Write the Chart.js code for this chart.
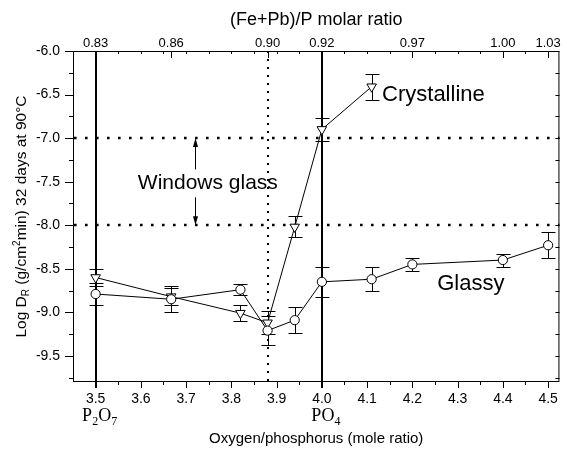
<!DOCTYPE html>
<html>
<head>
<meta charset="utf-8">
<title>Dissolution rate vs O/P ratio</title>
<script src="https://cdn.jsdelivr.net/npm/chart.js@4.4.0/dist/chart.umd.min.js"></script>
<style>
  html, body { margin: 0; padding: 0; background: #fff; }
  #wrap { width: 567px; height: 455px; }
</style>
</head>
<body>
<div id="wrap"><canvas id="dissolutionChart" width="567" height="455"></canvas></div>
<script>
// glassy samples: O/P ratio, log DR and error
const glassyRatio = [3.5, 3.667, 3.82, 3.88, 3.94, 4.0, 4.11, 4.2, 4.4, 4.5];
const glassyLogDR = [-8.79, -8.85, -8.74, -9.21, -9.09, -8.65, -8.62, -8.45, -8.40, -8.23];
const glassyErr   = [0.13, 0.15, 0.06, 0.17, 0.15, 0.17, 0.14, 0.07, 0.075, 0.15];

// crystallized samples
const crystRatio = [3.5, 3.667, 3.82, 3.88, 3.94, 4.0, 4.11];
const crystLogDR = [-8.60, -8.82, -9.01, -9.12, -8.02, -6.90, -6.41];
const crystErr   = [0.10, 0.10, 0.09, 0.13, 0.12, 0.13, 0.15];

// top axis: (Fe+Pb)/P ratio placed at the matching O/P ratio
const topTickRatio  = [3.5, 3.667, 3.88, 4.0, 4.2, 4.4, 4.5];
const topTickLabels = ['0.83', '0.86', '0.90', '0.92', '0.97', '1.00', '1.03'];

// window glass range and composition markers
const windowGlassLimits = [-8.0, -7.0];
const solidRatioLines = [3.5, 4.0];
const dottedRatioLine = 3.88;

const sans = '"Liberation Sans", Arial, Helvetica, sans-serif';
const serif = '"Liberation Serif", "Times New Roman", serif';

// text with sub/superscript pieces, centred on cx
function drawRich(ctx, parts, cx, baseY, size, family) {
  const small = Math.round(size * 0.64);
  let w = 0;
  parts.forEach(p => {
    ctx.font = (p.s ? small : size) + 'px ' + family;
    w += ctx.measureText(p.t).width;
  });
  let xx = cx - w / 2;
  ctx.textAlign = 'left';
  ctx.textBaseline = 'alphabetic';
  parts.forEach(p => {
    ctx.font = (p.s ? small : size) + 'px ' + family;
    const dy = p.s === 'sub' ? size * 0.22 : p.s === 'sup' ? -size * 0.4 : 0;
    ctx.fillText(p.t, xx, baseY + dy);
    xx += ctx.measureText(p.t).width;
  });
}

function arrow(ctx, xx, fromY, toY) {
  const dir = toY < fromY ? -1 : 1;
  ctx.beginPath();
  ctx.moveTo(xx, fromY);
  ctx.lineTo(xx, toY - dir * 8);
  ctx.stroke();
  ctx.beginPath();
  ctx.moveTo(xx, toY);
  ctx.lineTo(xx - 2.5, toY - dir * 9);
  ctx.lineTo(xx + 2.5, toY - dir * 9);
  ctx.closePath();
  ctx.fill();
}

const decorPlugin = {
  id: 'decor',
  beforeDatasetsDraw(chart) {
    const { ctx, chartArea: a, scales: { x, y } } = chart;
    ctx.save();
    ctx.strokeStyle = '#000';

    // window glass limits
    ctx.lineWidth = 2.6;
    ctx.setLineDash([2.6, 8.4]);
    windowGlassLimits.forEach(v => {
      const yy = Math.round(y.getPixelForValue(v));
      ctx.beginPath();
      ctx.moveTo(a.left + 1, yy);
      ctx.lineTo(a.right, yy);
      ctx.stroke();
    });

    // dotted line at 0.90
    ctx.lineWidth = 2;
    ctx.setLineDash([2, 6]);
    const xd = Math.round(x.getPixelForValue(dottedRatioLine));
    ctx.beginPath();
    ctx.moveTo(xd, a.top);
    ctx.lineTo(xd, a.bottom);
    ctx.stroke();
    ctx.setLineDash([]);

    // P2O7 and PO4 compositions
    ctx.lineWidth = 2;
    solidRatioLines.forEach(v => {
      const xx = Math.round(x.getPixelForValue(v));
      ctx.beginPath();
      ctx.moveTo(xx, a.top);
      ctx.lineTo(xx, a.bottom + 6);
      ctx.stroke();
    });

    // error bars
    ctx.lineWidth = 1;
    const bars = (xs, ys, es) => xs.forEach((xv, i) => {
      const cx = Math.round(x.getPixelForValue(xv)) + 0.5;
      const y1 = Math.round(y.getPixelForValue(ys[i] + es[i])) + 0.5;
      const y2 = Math.round(y.getPixelForValue(ys[i] - es[i])) + 0.5;
      ctx.beginPath();
      ctx.moveTo(cx, y1); ctx.lineTo(cx, y2);
      ctx.moveTo(cx - 7, y1); ctx.lineTo(cx + 7, y1);
      ctx.moveTo(cx - 7, y2); ctx.lineTo(cx + 7, y2);
      ctx.stroke();
    });
    bars(glassyRatio, glassyLogDR, glassyErr);
    bars(crystRatio, crystLogDR, crystErr);
    ctx.restore();
  },

  afterDatasetsDraw(chart) {
    const { ctx, chartArea: a, scales: { x, y } } = chart;
    ctx.save();
    ctx.strokeStyle = '#000';
    ctx.fillStyle = '#000';
    ctx.lineWidth = 1;

    // frame
    ctx.strokeRect(a.left + 0.5, a.top + 0.5, a.right - a.left - 1, a.bottom - a.top - 1);

    // tick marks
    ctx.beginPath();
    for (let i = 1; ; i++) {
      const v = 3.45 + i * 0.05;
      if (v > x.max - 0.001) break;
      const xx = Math.round(x.getPixelForValue(v)) + 0.5;
      const major = i % 2 === 1;
      ctx.moveTo(xx, a.bottom); ctx.lineTo(xx, a.bottom + (major ? 6 : 3));
      ctx.moveTo(xx, a.top); ctx.lineTo(xx, a.top + 3);
    }
    for (let i = 0; i <= 16; i++) {
      const v = -6.0 - i * 0.25;
      if (v < y.min) break;
      const yy = Math.round(y.getPixelForValue(v)) + 0.5;
      ctx.moveTo(a.left, yy); ctx.lineTo(a.left - (i % 2 === 0 ? 8 : 4), yy);
      ctx.moveTo(a.right, yy); ctx.lineTo(a.right - 4, yy);
    }
    topTickRatio.forEach(v => {
      const xx = Math.round(x.getPixelForValue(v)) + 0.5;
      ctx.moveTo(xx, a.top); ctx.lineTo(xx, a.top + 7);
    });
    ctx.stroke();

    // top axis labels and title
    ctx.font = '13px ' + sans;
    ctx.textAlign = 'center';
    ctx.textBaseline = 'alphabetic';
    topTickRatio.forEach((v, i) => {
      ctx.fillText(topTickLabels[i], x.getPixelForValue(v), a.top - 4);
    });
    ctx.font = '18px ' + sans;
    ctx.fillText('(Fe+Pb)/P molar ratio', (a.left + a.right) / 2, 25);

    // y axis title
    ctx.save();
    ctx.translate(26, (a.top + a.bottom) / 2);
    ctx.rotate(-Math.PI / 2);
    drawRich(ctx, [
      { t: 'Log D' }, { t: 'R', s: 'sub' }, { t: ' (g/cm' }, { t: '2', s: 'sup' },
      { t: 'min) 32 days at 90\u00B0C' }
    ], 0, 0, 15.5, sans);
    ctx.restore();

    // phosphate units under the axis
    drawRich(ctx, [{ t: 'P' }, { t: '2', s: 'sub' }, { t: 'O' }, { t: '7', s: 'sub' }],
      x.getPixelForValue(3.5) + 4, 421, 18, serif);
    drawRich(ctx, [{ t: 'PO' }, { t: '4', s: 'sub' }],
      x.getPixelForValue(4.0) + 4, 421, 18, serif);

    // series labels
    ctx.textAlign = 'left';
    ctx.textBaseline = 'middle';
    ctx.font = '22px ' + sans;
    ctx.fillText('Crystalline', x.getPixelForValue(4.133), y.getPixelForValue(-6.51));
    ctx.fillText('Glassy', x.getPixelForValue(4.255), y.getPixelForValue(-8.67));
    ctx.font = '21px ' + sans;
    ctx.textAlign = 'center';
    ctx.fillText('Windows glass', x.getPixelForValue(3.748), y.getPixelForValue(-7.52));

    // arrows pointing at the window glass limits
    const ax = Math.round(x.getPixelForValue(3.72)) + 0.5;
    arrow(ctx, ax, y.getPixelForValue(-7.36), y.getPixelForValue(-7.0));
    arrow(ctx, ax, y.getPixelForValue(-7.68), y.getPixelForValue(-8.0));
    ctx.restore();
  }
};

const toPoints = (xs, ys) => xs.map((v, i) => ({ x: v, y: ys[i] }));

new Chart(document.getElementById('dissolutionChart'), {
  type: 'scatter',
  data: {
    datasets: [
      {
        label: 'Glassy',
        data: toPoints(glassyRatio, glassyLogDR),
        showLine: true,
        borderColor: '#000',
        borderWidth: 1,
        pointStyle: 'circle',
        pointRadius: 4.6,
        pointBackgroundColor: '#fff',
        pointBorderColor: '#000',
        pointBorderWidth: 1
      },
      {
        label: 'Crystalline',
        data: toPoints(crystRatio, crystLogDR),
        showLine: true,
        borderColor: '#000',
        borderWidth: 1,
        pointStyle: 'triangle',
        rotation: 180,
        pointRadius: 5.5,
        pointBackgroundColor: '#fff',
        pointBorderColor: '#000',
        pointBorderWidth: 1
      }
    ]
  },
  options: {
    responsive: false,
    animation: false,
    events: [],
    layout: { padding: { top: 51, right: 2, left: 0, bottom: 0 } },
    plugins: {
      legend: { display: false },
      tooltip: { enabled: false }
    },
    scales: {
      x: {
        type: 'linear',
        position: 'bottom',
        min: 3.45,
        max: 4.525,
        grid: { display: false, drawTicks: false },
        border: { display: false },
        ticks: {
          stepSize: 0.1,
          includeBounds: false,
          autoSkip: false,
          maxRotation: 0,
          padding: 9,
          color: '#000',
          font: { family: sans, size: 14 },
          callback: v => v.toFixed(1)
        },
        title: {
          display: true,
          text: 'Oxygen/phosphorus (mole ratio)',
          color: '#000',
          font: { family: sans, size: 15 },
          padding: { top: 0, bottom: 7 }
        },
        afterFit: s => { s.height = 73; }
      },
      y: {
        type: 'linear',
        min: -9.8,
        max: -6.0,
        grid: { display: false, drawTicks: false },
        border: { display: false },
        ticks: {
          stepSize: 0.5,
          includeBounds: false,
          padding: 13,
          color: '#000',
          font: { family: sans, size: 14 },
          callback: v => v.toFixed(1)
        },
        afterFit: s => { s.width = 73; }
      }
    }
  },
  plugins: [decorPlugin]
});
</script>
</body>
</html>
